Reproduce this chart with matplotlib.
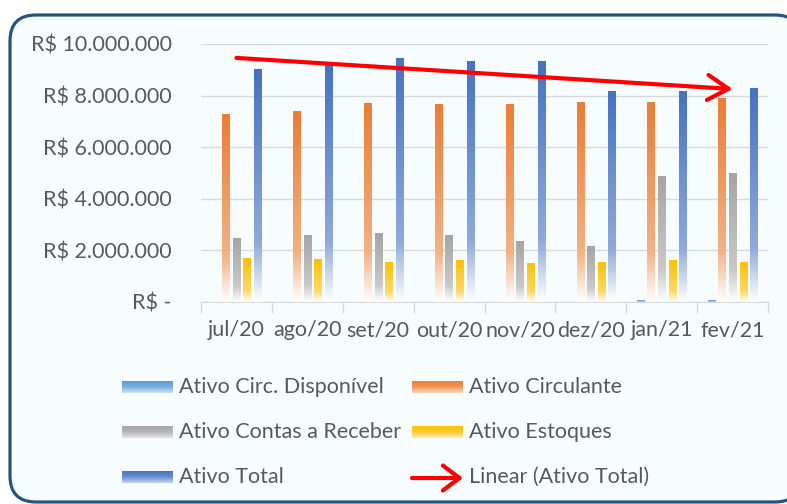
import numpy as np
import matplotlib
matplotlib.use("Agg")
import matplotlib.pyplot as plt
from matplotlib.colors import to_rgb
from matplotlib.patches import FancyBboxPatch
from matplotlib.transforms import ScaledTranslation, IdentityTransform

plt.rcParams["font.family"] = ["Lato", "DejaVu Sans"]

months = ["jul/20", "ago/20", "set/20", "out/20", "nov/20", "dez/20", "jan/21", "fev/21"]

# values in R$
circ_disponivel = [0, 0, 0, 0, 0, 0, 40_000, 40_000]
circulante = [7_250_000, 7_400_000, 7_710_000, 7_640_000, 7_640_000, 7_750_000, 7_750_000, 7_870_000]
contas_receber = [2_480_000, 2_560_000, 2_640_000, 2_560_000, 2_360_000, 2_170_000, 4_880_000, 5_000_000]
estoques = [1_670_000, 1_630_000, 1_550_000, 1_590_000, 1_510_000, 1_550_000, 1_590_000, 1_550_000]
ativo_total = [9_030_000, 9_190_000, 9_420_000, 9_340_000, 9_340_000, 8_140_000, 8_140_000, 8_260_000]

series = [
    ("Ativo Circ. Disponível", circ_disponivel, "#5B9BD5"),
    ("Ativo Circulante", circulante, "#ED7D31"),
    ("Ativo Contas a Receber", contas_receber, "#A5A5A5"),
    ("Ativo Estoques", estoques, "#FFC000"),
    ("Ativo Total", ativo_total, "#4472C4"),
]

TEXT = "#595959"
GRID = "#D9D9D9"
BG = "#F7FCFE"
W, H = 787, 504


def gradient(color, n=200, stops=(0, 0.75, 1), weights=(1.0, 0.6, 0.0)):
    # solid colour at the top fading to white at the bottom
    t = np.linspace(0, 1, n)
    w = np.interp(t, stops, weights)
    c = np.array(to_rgb(color))
    rgb = w[:, None] * c + (1 - w[:, None]) * np.ones(3)
    return rgb[:, None, :]


fig = plt.figure(figsize=(W / 100, H / 100), dpi=100)
fig.patch.set_facecolor("white")

# rounded chart frame (pixel coords), right edge runs off the picture
frame = FancyBboxPatch((10, 2), 791, 487, boxstyle="round,pad=0,rounding_size=26",
                       transform=IdentityTransform(), facecolor=BG,
                       edgecolor="#25557F", linewidth=2.3, zorder=-10)
fig.patches.append(frame)

ax = fig.add_axes([201 / W, 1 - 302 / H, 567 / W, 258 / H])
ax.set_facecolor("none")

x = np.arange(len(months))
step, bw = 0.15, 0.103
for i, (name, vals, color) in enumerate(series):
    img = gradient(color)
    for xi, v in zip(x, vals):
        if v <= 0:
            continue
        cx = xi + (i - 2) * step
        ax.imshow(img, extent=[cx - bw / 2, cx + bw / 2, 0, v], aspect="auto",
                  interpolation="bilinear", zorder=3)

# linear trend of Ativo Total
k, b = np.polyfit(x, ativo_total, 1)
ax.annotate("", xy=(x[-1], k * x[-1] + b), xytext=(x[0], k * x[0] + b),
            arrowprops=dict(arrowstyle="->,head_length=0.75,head_width=0.45",
                            color="#FF0000", lw=3, shrinkA=0, shrinkB=0,
                            mutation_scale=20), zorder=5)

ax.set_xlim(-0.5, len(months) - 0.5)
ax.set_ylim(0, 10_000_000)
yt = np.arange(0, 10_000_001, 2_000_000)
ax.set_yticks(yt)
ax.set_yticklabels([f"R$ {v:,.0f}".replace(",", ".") if v else "R$ -" for v in yt])
ax.yaxis.get_ticklabels()[0].set_transform(
    ax.yaxis.get_ticklabels()[0].get_transform() + ScaledTranslation(-12 / 100, 0, fig.dpi_scale_trans))
ax.tick_params(axis="y", length=0, pad=21, labelsize=15.5, labelcolor=TEXT)

ax.set_xticks(x)
ax.set_xticklabels(months)
ax.set_xticks(np.arange(-0.5, len(months)), minor=True)
ax.tick_params(axis="x", which="major", length=0, pad=13, labelsize=15.5, labelcolor=TEXT)
ax.tick_params(axis="x", which="minor", length=8, color=GRID, width=1)

ax.grid(axis="y", color=GRID, lw=1, zorder=0)
ax.set_axisbelow(True)
for s in ("top", "right", "left"):
    ax.spines[s].set_visible(False)
ax.spines["bottom"].set_color(GRID)

# legend drawn in pixel space
lg = fig.add_axes([0, 0, 1, 1])
lg.axis("off")
lg.patch.set_alpha(0)
cols = [(122, 179), (412, 469)]
rows = [387, 432, 477]
entries = [(n, c) for n, _, c in series] + [("Linear (Ativo Total)", None)]
for j, (name, color) in enumerate(entries):
    (px, tx), ry = cols[j % 2], rows[j // 2]
    if color is None:
        lg.annotate("", xy=(px + 51, ry + 1), xytext=(px, ry + 1),
                    arrowprops=dict(arrowstyle="->,head_length=0.6,head_width=0.45",
                                    color="#FF0000", lw=3, shrinkA=0, shrinkB=0,
                                    mutation_scale=20))
    else:
        lg.imshow(gradient(color, stops=(0, 0.5, 1), weights=(1.0, 0.8, 0.3)),
                  extent=[px, px + 51, ry + 6, ry - 6], aspect="auto",
                  interpolation="bilinear")
    lg.text(tx, ry, name, ha="left", va="center", fontsize=15.5, color=TEXT)
lg.set_xlim(0, W)
lg.set_ylim(H, 0)

fig.savefig("out.png", dpi=100, facecolor="white")
